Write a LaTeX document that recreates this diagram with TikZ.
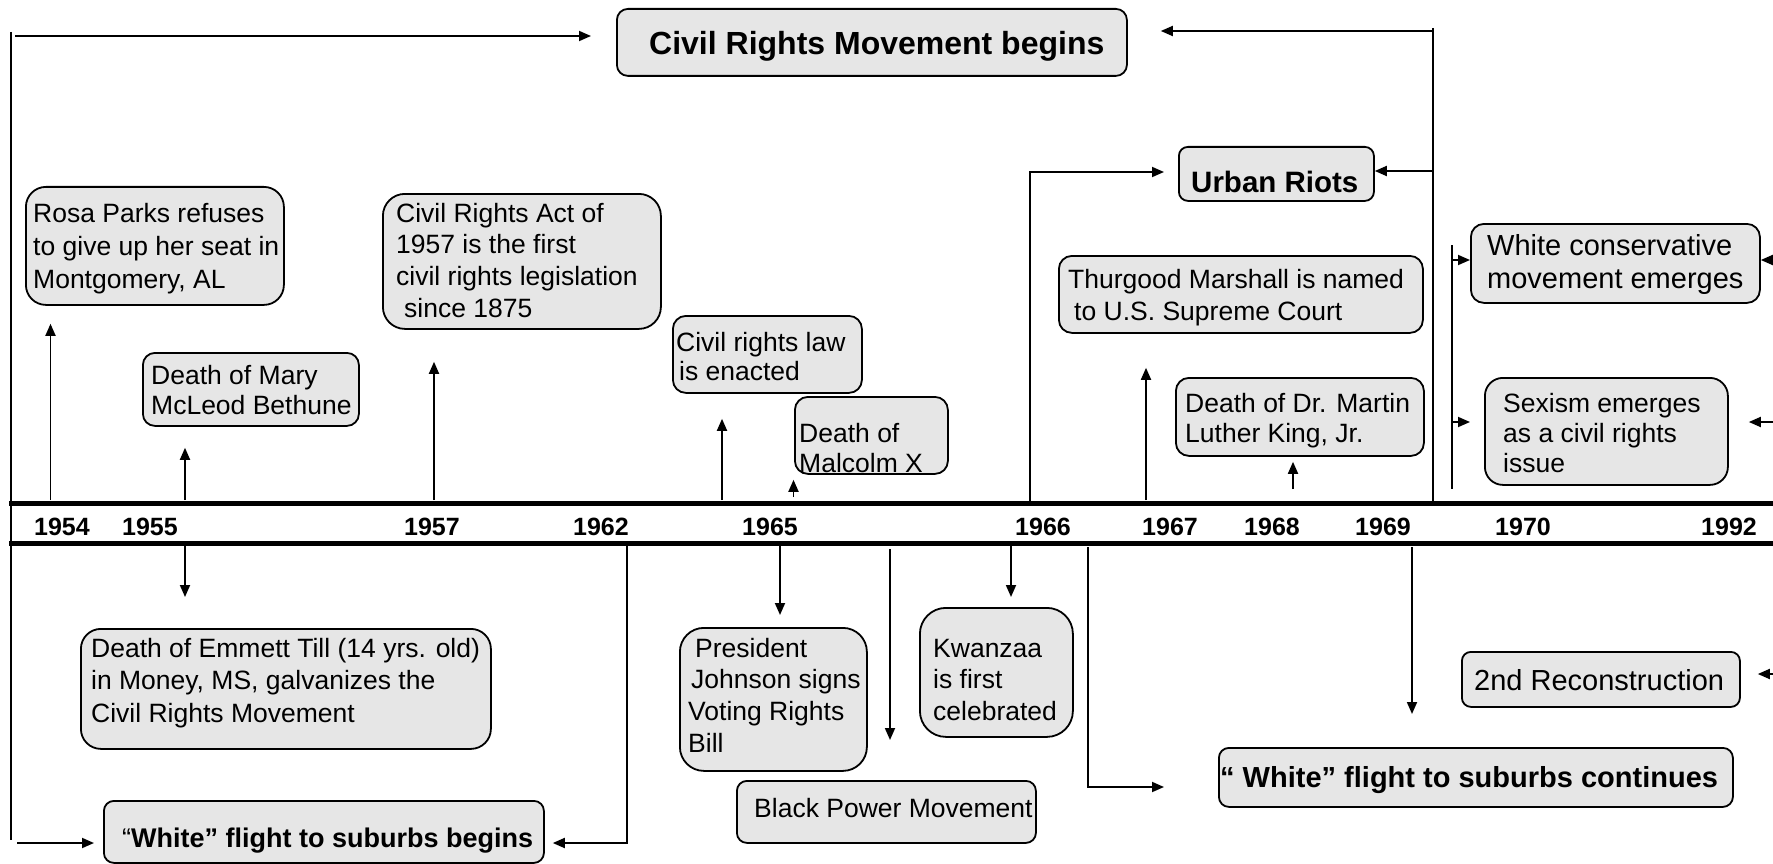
\documentclass[tikz,border=0pt]{standalone}
\usepackage{fontspec}
\setmainfont{Liberation Sans}
\usetikzlibrary{arrows.meta}
\definecolor{boxfill}{RGB}{230,230,230}
\newcommand\setfs[2]{\fontsize{#1}{#2}\selectfont}
\newcommand\tstrut{\rule{0pt}{22pt}}

\tikzset{
  conn/.style={line width=1.8pt},
  arr/.style={conn, -{Triangle[length=12pt,width=10pt]}},
  axis/.style={line width=5pt},
  evbox/.style={draw, line width=1.8pt, fill=boxfill, inner sep=0pt, anchor=north west},
  evtext/.style={anchor=north west, inner sep=0pt, align=left},
  evline/.style={anchor=base west, inner sep=0pt},
  year/.style={anchor=base, inner sep=0pt, font=\bfseries\setfs{25}{30}},
}

\begin{document}
\begin{tikzpicture}[x=1pt,y=-1pt]
\fill[white] (0,0) rectangle (1773,864);
\useasboundingbox (0,0) rectangle (1773,864);

% ---------- time axis ----------
\draw[axis] (9,503) -- (1773,503);
\draw[axis] (9,543) -- (1773,543);
\foreach \yr/\xx in {1954/62,1955/150,1957/432,1962/601,1965/770,1966/1043,1967/1170,1968/1272,1969/1383,1970/1523,1992/1729}
  \node[year] (y\yr) at (\xx,535) {\yr};

% ---------- event boxes ----------
\node[evbox, minimum width=510pt, minimum height=67pt, rounded corners=11pt] (crm) at (616,8) {};
\node[evbox, minimum width=195pt, minimum height=54pt, rounded corners=9pt] (urban) at (1178,146) {};
\node[evbox, minimum width=258pt, minimum height=118pt, rounded corners=20pt] (rosa) at (25,186) {};
\node[evbox, minimum width=278pt, minimum height=135pt, rounded corners=22pt] (cra) at (382,193) {};
\node[evbox, minimum width=216pt, minimum height=73pt, rounded corners=12pt] (bethune) at (142,352) {};
\node[evbox, minimum width=189pt, minimum height=77pt, rounded corners=13pt] (crlaw) at (672,315) {};
\node[evbox, minimum width=153pt, minimum height=77pt, rounded corners=13pt] (malcolm) at (794,396) {};
\node[evbox, minimum width=364pt, minimum height=77pt, rounded corners=13pt] (thurgood) at (1058,255) {};
\node[evbox, minimum width=248pt, minimum height=78pt, rounded corners=13pt] (mlk) at (1175,377) {};
\node[evbox, minimum width=289pt, minimum height=79pt, rounded corners=13pt] (wcons) at (1470,223) {};
\node[evbox, minimum width=243pt, minimum height=107pt, rounded corners=18pt] (sexism) at (1484,377) {};
\node[evbox, minimum width=410pt, minimum height=120pt, rounded corners=20pt] (emmett) at (80,628) {};
\node[evbox, minimum width=187pt, minimum height=143pt, rounded corners=24pt] (president) at (679,627) {};
\node[evbox, minimum width=153pt, minimum height=129pt, rounded corners=26pt] (kwanzaa) at (919,607) {};
\node[evbox, minimum width=299pt, minimum height=62pt, rounded corners=10pt] (blackpower) at (736,780) {};
\node[evbox, minimum width=278pt, minimum height=55pt, rounded corners=9pt] (secondrec) at (1461,651) {};
\node[evbox, minimum width=514pt, minimum height=59pt, rounded corners=10pt] (wfc) at (1218,747) {};
\node[evbox, minimum width=440pt, minimum height=62pt, rounded corners=10pt] (wfb) at (103,800) {};

% ---------- box texts ----------
\node[evline, font=\bfseries\setfs{32}{38}] (crm-t) at (649,55) {Civil Rights Movement begins};
\node[evline, font=\bfseries\setfs{29.5}{35}] (urban-t) at (1191,193) {Urban Riots};
\node[evtext, font=\setfs{26.5}{33}] (rosa-t) at (33,200) {\tstrut Rosa Parks refuses\\to give up her seat in\\Montgomery, AL};
\node[evtext, font=\setfs{26.5}{31.7}] (cra-t) at (396,200) {\tstrut Civil Rights Act of\\1957 is the first\\civil rights legislation\\\hspace*{8pt}since 1875};
\node[evtext, font=\setfs{26.5}{30}] (bethune-t) at (151,362) {\tstrut Death of Mary\\McLeod Bethune};
\node[evtext, font=\setfs{26.5}{29.5}] (crlaw-t) at (676,329) {\tstrut Civil rights law\\\hspace*{3pt}is enacted};
\node[evtext, font=\setfs{26.5}{30}] (malcolm-t) at (799,420) {\tstrut Death of\\Malcolm X};
\node[evtext, font=\setfs{26.5}{32}] (thurgood-t) at (1068,266) {\tstrut Thurgood Marshall is named\\\hspace*{6pt}to U.S. Supreme Court};
\node[evtext, font=\setfs{26.5}{30}] (mlk-t) at (1185,390) {\tstrut Death of Dr. Martin\\Luther King, Jr.};
\node[evtext, font=\setfs{29}{33}] (wcons-t) at (1487,233) {\tstrut White conservative\\movement emerges};
\node[evtext, font=\setfs{26.5}{30}] (sexism-t) at (1503,390) {\tstrut Sexism emerges\\as a civil rights\\issue};
\node[evtext, font=\setfs{26.5}{32.5}] (emmett-t) at (91,635) {\tstrut Death of Emmett Till (14 yrs. old)\\in Money, MS, galvanizes the\\Civil Rights Movement};
\node[evtext, font=\setfs{26.5}{31.7}] (president-t) at (688,635) {\tstrut\hspace*{7pt}President\\\hspace*{3pt}Johnson signs\\Voting Rights\\Bill};
\node[evtext, font=\setfs{26.5}{31.5}] (kwanzaa-t) at (933,635) {\tstrut Kwanzaa\\is first\\celebrated};
\node[evline, font=\setfs{26.5}{32}] (blackpower-t) at (754,817) {Black Power Movement};
\node[evline, font=\setfs{29}{34}] (secondrec-t) at (1474,690) {2nd Reconstruction};
\node[evline, font=\bfseries\setfs{27}{32}] (wfb-t) at (122,847) {{\mdseries “}White” flight to suburbs begins};
\node[evline, font=\bfseries\setfs{29}{34}] (wfc-t) at (1220,787) {“ White” flight to suburbs continues};

% ---------- brackets and connectors above the axis ----------
\coordinate (L0) at (11,32);
\coordinate (L1) at (11,840);
\coordinate (La) at (15,36);
\coordinate (Lb) at (17,843);
\draw[conn] (L0) -- (L1);
\draw[arr, shorten >=25pt] (La) -- (La -| crm.west);
\draw[arr, shorten >=9pt] (Lb) -- (Lb -| wfb.west);

\coordinate (R0) at (1433,28);
\coordinate (R1) at (1433,501);
\coordinate (Ra) at (1433,31);
\coordinate (Rb) at (1433,171);
\draw[conn] (R0) -- (R1);
\draw[arr, shorten >=33pt] (Ra) -- (Ra -| crm.east);
\draw[arr] (Rb) -- (Rb -| urban.east);

\coordinate (U0) at (1030,501);
\coordinate (U1) at (1030,172);
\draw[arr, shorten >=14pt] (U0) -- (U1) -- (U1 -| urban.west);

\coordinate (A54) at (50.5,500);
\coordinate (A55) at (185,500);
\coordinate (A57) at (434,500);
\coordinate (A64) at (722,500);
\coordinate (A65) at (793.5,497);
\coordinate (A67) at (1146,500);
\coordinate (A68) at (1293,489);
\draw[arr, shorten >=18pt] (A54) -- (A54 |- rosa.south);
\draw[arr, shorten >=21pt] (A55) -- (A55 |- bethune.south);
\draw[arr, shorten >=32pt] (A57) -- (A57 |- cra.south);
\draw[arr, shorten >=25pt] (A64) -- (A64 |- crlaw.south);
\draw[arr, shorten >=5pt] (A65) -- (A65 |- malcolm.south);
\draw[arr, shorten >=34pt] (A67) -- (A67 |- thurgood.south);
\draw[arr, shorten >=5pt] (A68) -- (A68 |- mlk.south);

\coordinate (W0) at (1452,245);
\coordinate (W1) at (1452,489);
\coordinate (Wa) at (1452,260);
\coordinate (Wb) at (1452,422);
\draw[conn] (W0) -- (W1);
\draw[arr] (Wa) -- (Wa -| wcons.west);
\draw[arr, shorten >=14pt] (Wb) -- (Wb -| sexism.west);

\coordinate (E1) at (1773,260);
\coordinate (E2) at (1773,422);
\coordinate (E3) at (1773,674);
\draw[arr] (E1) -- (E1 -| wcons.east);
\draw[arr, shorten >=20pt] (E2) -- (E2 -| sexism.east);
\draw[arr, shorten >=17pt] (E3) -- (E3 -| secondrec.east);

% ---------- connectors below the axis ----------
\coordinate (D55) at (185,545);
\coordinate (D62) at (627,545);
\coordinate (D62b) at (627,843);
\coordinate (D65) at (780,545);
\coordinate (D65b) at (890,549);
\coordinate (D66) at (1011,545);
\coordinate (D66b) at (1088,547);
\coordinate (D66c) at (1088,787);
\coordinate (D69) at (1412,547);
\draw[arr, shorten >=31pt] (D55) -- (D55 |- emmett.north);
\draw[arr, shorten >=8pt] (D62) -- (D62b) -- (D62b -| wfb.east);
\draw[arr, shorten >=12pt] (D65) -- (D65 |- president.north);
\draw[arr, shorten >=40pt] (D65b) -- (D65b |- blackpower.north);
\draw[arr, shorten >=10pt] (D66) -- (D66 |- kwanzaa.north);
\draw[arr, shorten >=54pt] (D66b) -- (D66c) -- (D66c -| wfc.west);
\draw[arr, shorten >=33pt] (D69) -- (D69 |- wfc.north);
\end{tikzpicture}
\end{document}
